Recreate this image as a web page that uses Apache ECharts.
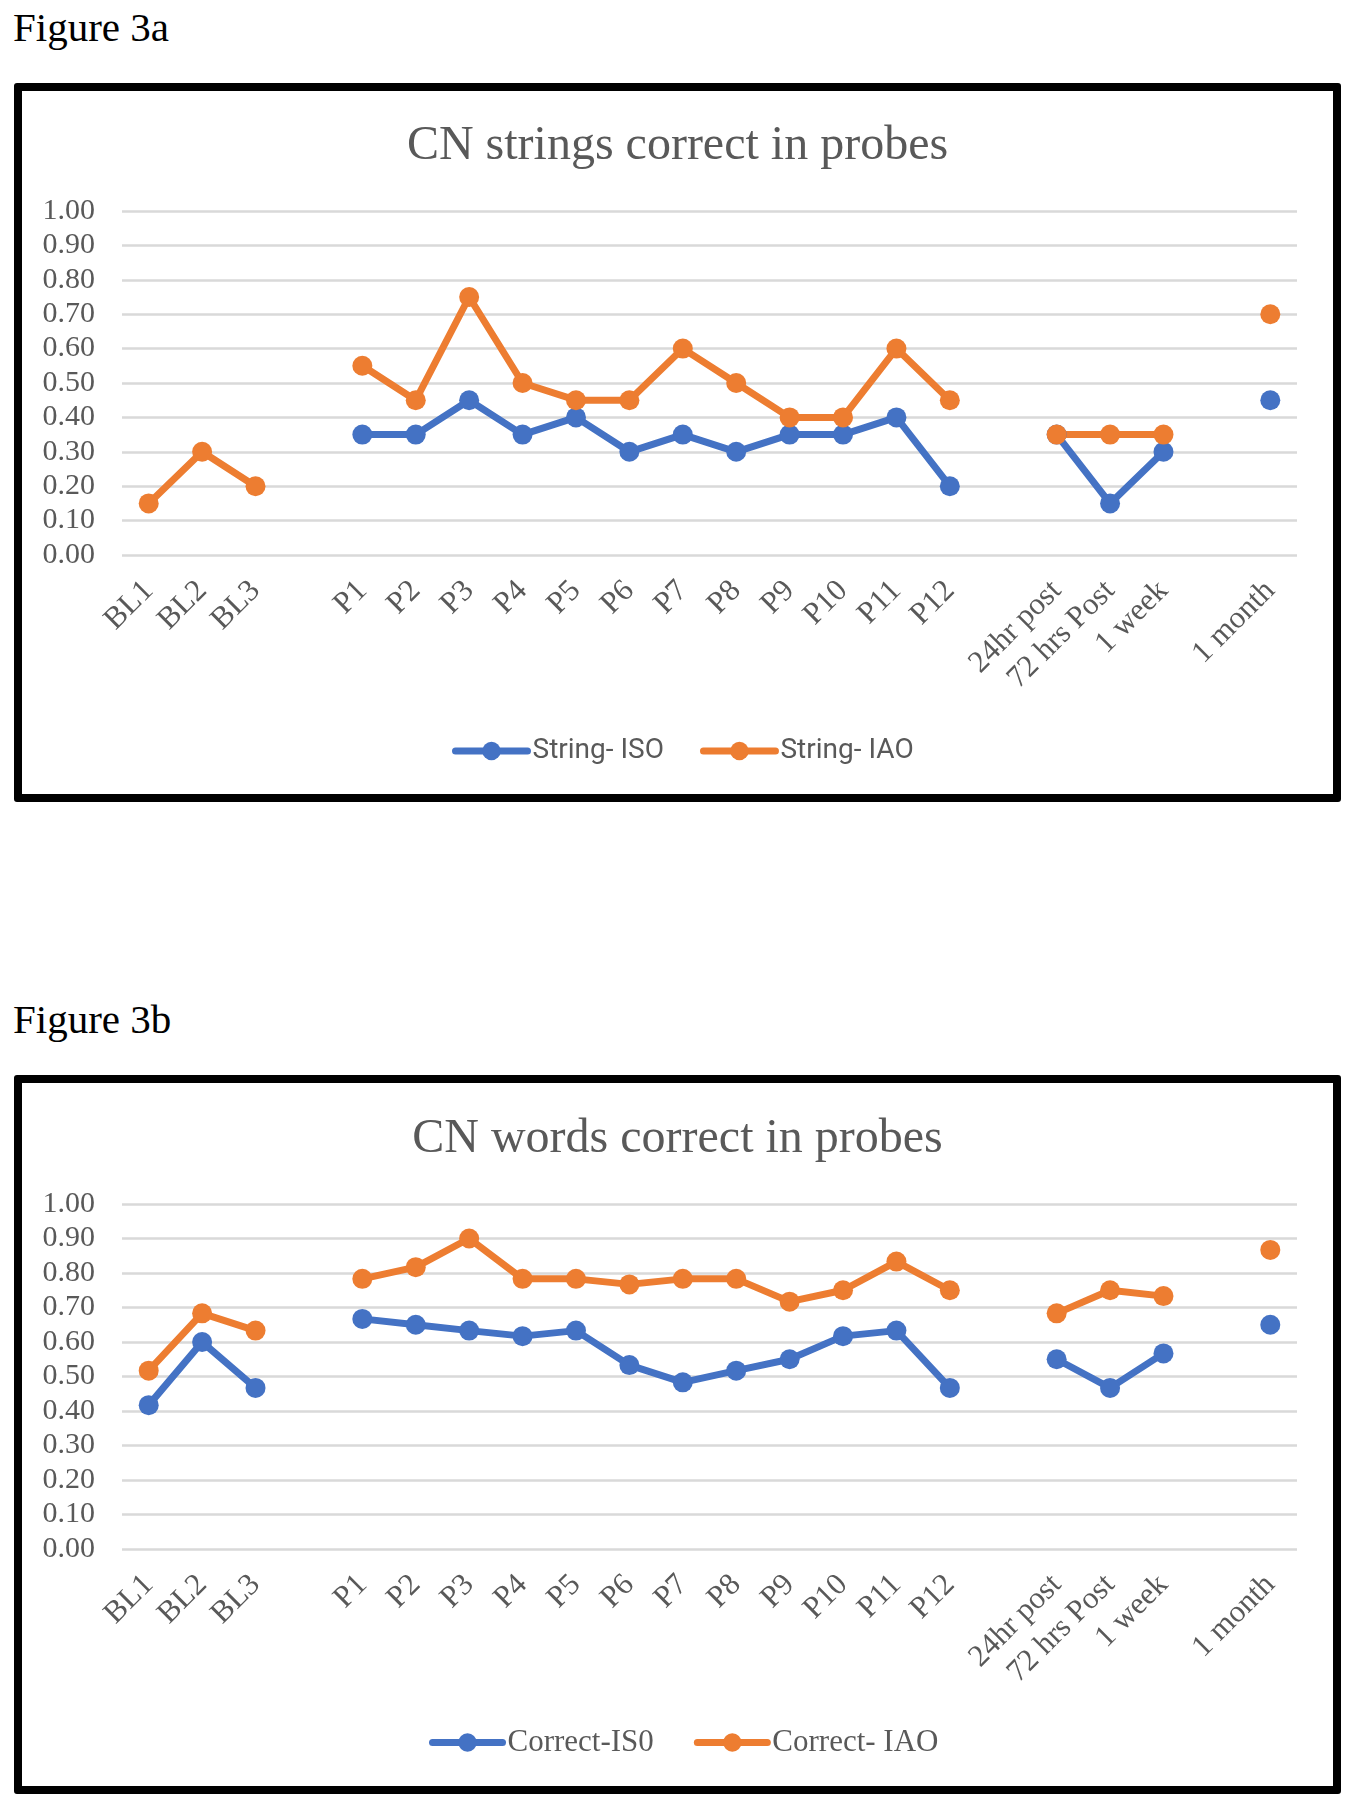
<!DOCTYPE html>
<html>
<head>
<meta charset="utf-8">
<script src="https://cdn.jsdelivr.net/npm/echarts@6/dist/echarts.min.js"></script>
<style>
  html, body { margin: 0; padding: 0; background: #fff; }
  body { width: 1354px; height: 1800px; position: relative; }
  .fig { position: absolute; left: 13px; font-family: 'Liberation Serif', 'Times New Roman', serif; font-size: 41px; line-height: 41px; color: #000; }
  .frame { position: absolute; left: 14px; width: 1327px; height: 719px; box-sizing: border-box; border: 8px solid #000; border-radius: 3px; background: #fff; }
  .chart { width: 1311px; height: 703px; }
</style>
</head>
<body>
<div class="fig" style="top:7px;">Figure 3a</div>
<div class="frame" style="top:83px;"><div id="c1" class="chart"></div></div>
<div class="fig" style="top:999px;">Figure 3b</div>
<div class="frame" style="top:1075px;"><div id="c2" class="chart"></div></div>
<script>
// ---- data ----
const categories = ['BL1', 'BL2', 'BL3', ' ', 'P1', 'P2', 'P3', 'P4', 'P5', 'P6', 'P7', 'P8', 'P9', 'P10', 'P11', 'P12', '  ', '24hr post', '72 hrs Post', '1 week', '   ', '1 month'];
const yTicks = [0, 0.1, 0.2, 0.3, 0.4, 0.5, 0.6, 0.7, 0.8, 0.9, 1.0];

const stringISO = [null, null, null, null, 0.35, 0.35, 0.45, 0.35, 0.40, 0.30, 0.35, 0.30, 0.35, 0.35, 0.40, 0.20, null, 0.35, 0.15, 0.30, null, 0.45];
const stringIAO = [0.15, 0.30, 0.20, null, 0.55, 0.45, 0.75, 0.50, 0.45, 0.45, 0.60, 0.50, 0.40, 0.40, 0.60, 0.45, null, 0.35, 0.35, 0.35, null, 0.70];
const correctISO = [0.417, 0.60, 0.467, null, 0.667, 0.65, 0.633, 0.617, 0.633, 0.533, 0.483, 0.517, 0.55, 0.617, 0.633, 0.467, null, 0.55, 0.467, 0.567, null, 0.65];
const correctIAO = [0.517, 0.683, 0.633, null, 0.783, 0.817, 0.90, 0.783, 0.783, 0.767, 0.783, 0.783, 0.717, 0.75, 0.833, 0.75, null, 0.683, 0.75, 0.733, null, 0.867];

const titleA = 'CN strings correct in probes';
const titleB = 'CN words correct in probes';
const namesA = ['String- ISO', 'String- IAO'];
const namesB = ['Correct-IS0', 'Correct- IAO'];

// ---- styling ----
const SERIF = "'Liberation Serif', 'Times New Roman', serif";
const BLUE = '#4472C4';
const ORANGE = '#ED7D31';
const GREY = '#595959';

function lineSeries(name, data, color) {
  return {
    type: 'line', name: name, data: data,
    symbol: 'circle', symbolSize: 20, showSymbol: true, showAllSymbol: true,
    connectNulls: false,
    lineStyle: { width: 7, color: color, cap: 'round', join: 'round' },
    itemStyle: { color: color },
    emphasis: { disabled: true },
    animation: false
  };
}

function buildOption(cfg) {
  return {
    animation: false,
    title: {
      text: cfg.title, left: 'center', top: cfg.titleTop,
      padding: [0, 0, 0, cfg.titleShift],
      textStyle: { fontFamily: SERIF, fontSize: 48, fontWeight: 'normal', color: GREY }
    },
    legend: {
      data: cfg.names, left: cfg.legendLeft, top: cfg.legendTop,
      itemWidth: cfg.legendItemWidth, itemHeight: 23, itemGap: cfg.legendGap,
      lineStyle: { width: 7, cap: 'round' },
      textStyle: { fontFamily: cfg.legendFont, fontSize: cfg.legendSize, color: GREY }
    },
    grid: { left: 100, right: 36, top: cfg.gridTop, bottom: cfg.gridBottom, containLabel: false },
    xAxis: {
      type: 'category', data: categories, boundaryGap: true,
      axisLine: { show: false }, axisTick: { show: false },
      axisLabel: {
        interval: 0, rotate: 45, margin: 31, padding: [26, 0, 0, 0],
        fontFamily: SERIF, fontSize: 31, color: GREY
      }
    },
    yAxis: {
      type: 'value', min: yTicks[0], max: yTicks[yTicks.length - 1], interval: 0.1,
      axisLine: { show: false }, axisTick: { show: false },
      splitLine: { lineStyle: { color: '#d9d9d9', width: 2.5 } },
      axisLabel: {
        margin: 27, fontFamily: SERIF, fontSize: 30, color: GREY,
        formatter: v => v.toFixed(2)
      }
    },
    series: [
      lineSeries(cfg.names[0], cfg.d0, BLUE),
      lineSeries(cfg.names[1], cfg.d1, ORANGE)
    ]
  };
}

const c1 = echarts.init(document.getElementById('c1'), null, { renderer: 'canvas' });
c1.setOption(buildOption({
  title: titleA, titleTop: 31, titleShift: 14,
  names: namesA, legendLeft: 425, legendTop: 641, legendGap: 36, legendItemWidth: 72,
  legendFont: "Roboto, 'Liberation Sans', sans-serif", legendSize: 28,
  gridTop: 120, gridBottom: 239,
  d0: stringISO, d1: stringIAO
}));

const c2 = echarts.init(document.getElementById('c2'), null, { renderer: 'canvas' });
c2.setOption(buildOption({
  title: titleB, titleTop: 32, titleShift: 2,
  names: namesB, legendLeft: 402, legendTop: 639, legendGap: 40, legendItemWidth: 70,
  legendFont: SERIF, legendSize: 31,
  gridTop: 121, gridBottom: 237,
  d0: correctISO, d1: correctIAO
}));
</script>
</body>
</html>
